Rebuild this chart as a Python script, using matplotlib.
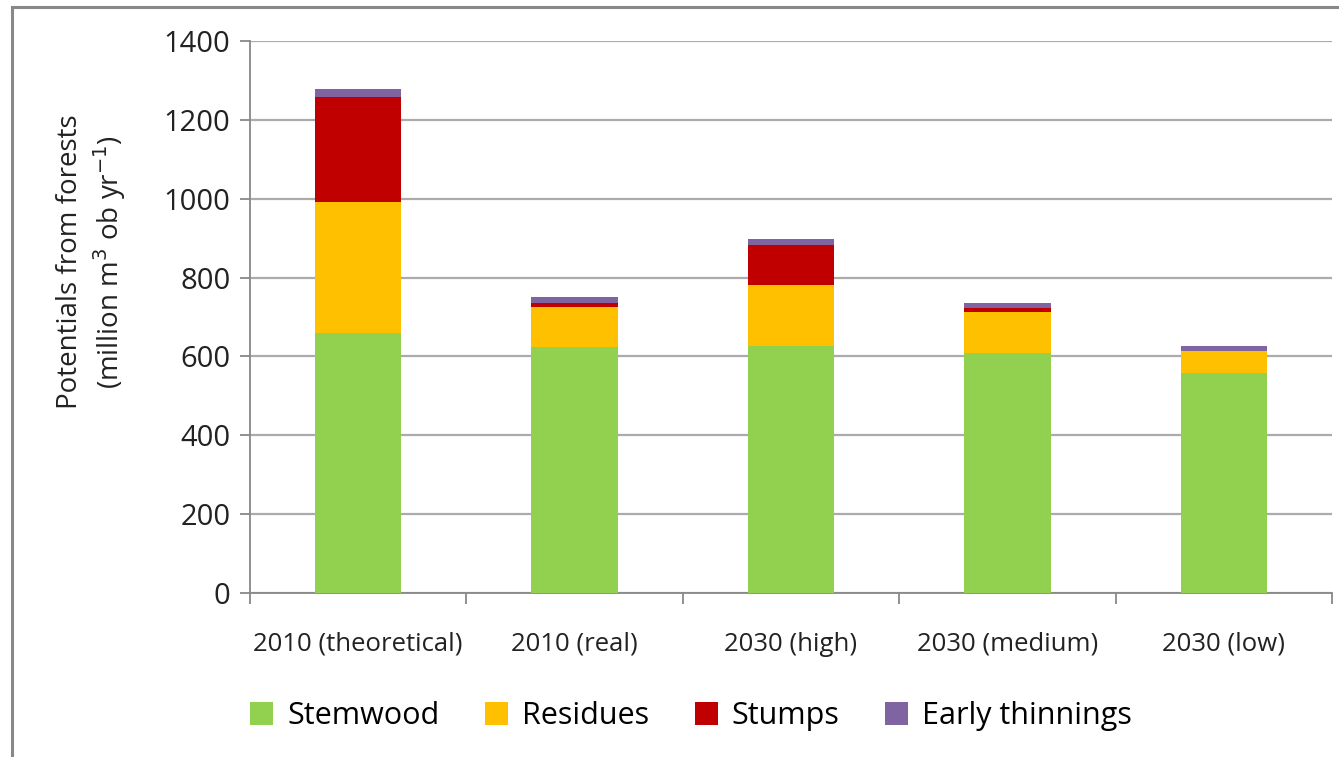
import matplotlib.pyplot as plt
import numpy as np
from matplotlib.patches import Rectangle

plt.rcParams["font.family"] = ["Open Sans", "DejaVu Sans"]

scenarios = ["2010 (theoretical)", "2010 (real)", "2030 (high)", "2030 (medium)", "2030 (low)"]
stemwood = [659, 623, 627, 608, 557]
residues = [333, 103, 155, 105, 58]
stumps = [267, 10, 100, 11, 0]
early_thinnings = [19, 14, 17, 12, 11]

series = [
    ("Stemwood", stemwood, "#92D050"),
    ("Residues", residues, "#FFC000"),
    ("Stumps", stumps, "#C00000"),
    ("Early thinnings", early_thinnings, "#8064A2"),
]

fig = plt.figure(figsize=(13.39, 7.57), dpi=100)
ax = fig.add_axes([250 / 1339, 1 - 593 / 757, 1082 / 1339, 552 / 757])

x = np.arange(len(scenarios))
bottom = np.zeros(len(scenarios))
for name, vals, color in series:
    vals = np.asarray(vals, dtype=float)
    ax.bar(x, vals, width=0.4, bottom=bottom, color=color, label=name, zorder=3)
    bottom += vals

ax.set_xlim(-0.5, len(scenarios) - 0.5)
ax.set_ylim(0, 1400)
ax.set_yticks(np.arange(0, 1401, 200))
ax.yaxis.grid(True, color="#ABABAB", linewidth=1.6, zorder=0)
ax.set_axisbelow(True)

ax.set_xticks(x)
ax.set_xticklabels(scenarios)
ax.set_xticks(np.arange(-0.5, len(scenarios)), minor=True)
ax.tick_params(axis="x", which="major", length=0, pad=28, labelsize=18.5, colors="#222222")
ax.tick_params(axis="x", which="minor", length=8, width=1.3, color="#888888", direction="out")
ax.tick_params(axis="y", length=7, width=1.3, color="#888888", pad=7, labelsize=21,
               labelcolor="#222222")

for side in ("top", "right"):
    ax.spines[side].set_visible(False)
for side in ("left", "bottom"):
    ax.spines[side].set_color("#888888")
    ax.spines[side].set_linewidth(1.3)

ax.set_ylabel("Potentials from forests\n(million m$^3$ ob yr$^{-1}$)",
              fontsize=20, color="#222222", linespacing=1.25)
ax.yaxis.set_label_coords(-122 / 1082, 0.6)

fig.legend(loc="center", bbox_to_anchor=(691 / 1339, 1 - 716 / 757), ncol=4,
           frameon=False, fontsize=22, handlelength=0.75, handleheight=0.75,
           handletextpad=0.45, columnspacing=1.5)

# thin grey border round the chart area
fig.patches.append(Rectangle((12 / 1339, -0.05), 1.1, 1.05 - 7 / 757,
                             transform=fig.transFigure, fill=False,
                             edgecolor="#888888", linewidth=2.2))

fig.savefig("out.png", dpi=100)
